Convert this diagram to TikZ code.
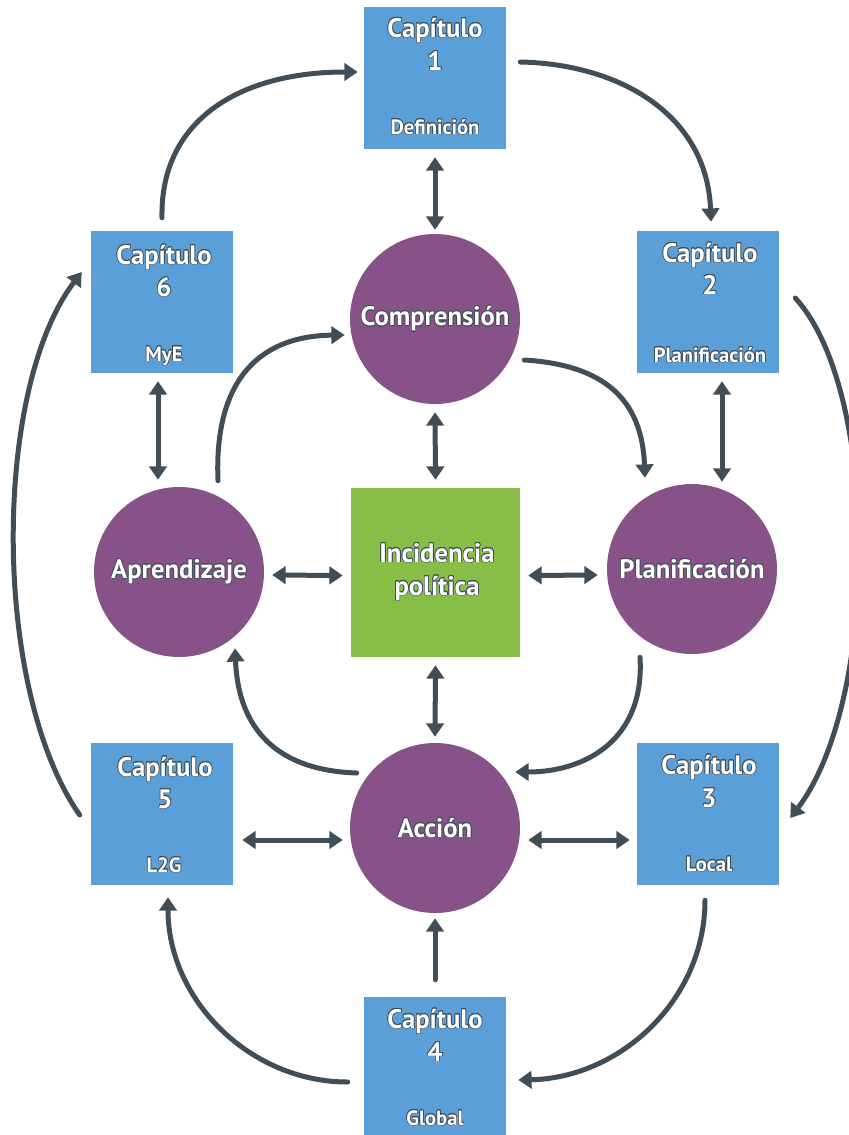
\documentclass[tikz,border=0pt]{standalone}
\usepackage{fontspec}
\setmainfont{PT Sans}
\usepackage{contour}
\contourlength{0.5pt}
\usetikzlibrary{arrows.meta,calc}
\definecolor{cblue}{HTML}{5A9FD7}
\definecolor{cpurple}{HTML}{875288}
\definecolor{cgreen}{HTML}{88BD46}
\definecolor{carrow}{HTML}{414E58}
\newcommand{\ol}[1]{\contour{carrow}{#1}}
\begin{document}
\begin{tikzpicture}[x=0.75pt,y=-0.75pt,
  chbox/.style={fill=cblue,minimum width=106.5pt,minimum height=106.5pt,inner sep=0pt},
  circ/.style={circle,fill=cpurple,minimum size=127.5pt,inner sep=0pt,text=white,font=\bfseries\fontsize{20}{22}\selectfont},
  gbox/.style={fill=cgreen,minimum width=126.75pt,minimum height=126.75pt,inner sep=0pt},
  ttl/.style={anchor=base,inner sep=0pt,text=white,font=\bfseries\fontsize{20}{22}\selectfont},
  sub/.style={anchor=base,inner sep=0pt,text=white,font=\bfseries\fontsize{15.5}{17}\selectfont},
  conn/.style={draw=carrow,line width=3.75pt,line cap=round,-{Triangle[length=10pt,width=13pt]}},
  dconn/.style={draw=carrow,line width=3.75pt,{Triangle[length=10pt,width=13pt]}-{Triangle[length=10pt,width=13pt]}}
]
\useasboundingbox (0,0) rectangle (849,1135);

% chapter boxes
\node[chbox] (c1) at (435,78) {};
\node[chbox] (c2) at (708,302) {};
\node[chbox] (c3) at (708,814) {};
\node[chbox,minimum height=103.5pt] (c4) at (435,1066) {};
\node[chbox] (c5) at (162,814) {};
\node[chbox] (c6) at (162,302) {};

% chapter texts
\node[ttl] (c1a) at (435,37) {\ol{Capítulo}};
\node[ttl] (c1n) at (435,70) {\ol{1}};
\node[sub] (c1b) at (435,134) {\ol{Definición}};
\node[ttl] (c2a) at (710,262) {\ol{Capítulo}};
\node[ttl] (c2n) at (710,294) {\ol{2}};
\node[sub] (c2b) at (710,362) {\ol{Planificación}};
\node[ttl] (c3a) at (709,774) {\ol{Capítulo}};
\node[ttl] (c3n) at (709,807) {\ol{3}};
\node[sub] (c3b) at (709,871) {\ol{Local}};
\node[ttl] (c4a) at (435,1028) {\ol{Capítulo}};
\node[ttl] (c4n) at (435,1061) {\ol{4}};
\node[sub] (c4b) at (435,1125) {\ol{Global}};
\node[ttl] (c5a) at (165,776) {\ol{Capítulo}};
\node[ttl] (c5n) at (165,808) {\ol{5}};
\node[sub] (c5b) at (164,872) {\ol{L2G}};
\node[ttl] (c6a) at (164,264) {\ol{Capítulo}};
\node[ttl] (c6n) at (164,296) {\ol{6}};
\node[sub] (c6b) at (164,361) {\ol{MyE}};

% circles
\node[circ] (comp) at (435,319) {\ol{Comprensión}};
\node[circ] (apr) at (179,572) {\ol{Aprendizaje}};
\node[circ] (plan) at (692,569) {\ol{Planificación}};
\node[circ] (acc) at (435,828) {\ol{Acción}};

% center
\node[gbox] (inc) at (435.5,572.5) {};
\node[ttl] (inca) at (437,562) {\ol{Incidencia}};
\node[ttl] (incb) at (437,595) {\ol{política}};

% outer cycle
\draw[conn] ($(c6.north)+(0,-13)$) .. controls (160,120) and (240,72) .. ($(c1.west)+(-6,-6)$);
\draw[conn] ($(c1.east)+(14,-16)$) .. controls (620,64) and (707,115) .. ($(c2.north)+(3,-9)$);
\draw[conn] ($(c2.east)+(16,-4)$) .. controls (880,390) and (880,700) .. ($(c3.east)+(11,4)$);
\draw[conn] ($(c3.south)+(-3,15)$) .. controls (705,1000) and (620,1078) .. ($(c4.east)+(12,14)$);
\draw[conn] ($(c4.west)+(-16,16)$) .. controls (250,1082) and (168,1000) .. ($(c5.south)+(6,12)$);
\draw[conn] ($(c5.west)+(-11,1)$) .. controls (-8,690) and (-8,390) .. ($(c6.west)+(-9,-30)$);
\draw[conn] ($(c4.north)+(0,-17)$) -- ($(acc.south)+(0,5)$);

% inner cycle
\draw[conn] ($(apr.north)+(39,-6)$) .. controls (214,385) and (255,336) .. ($(comp.west)+(-5,16)$);
\draw[conn] ($(comp.east)+(4,41)$) .. controls (605,365) and (642,400) .. ($(plan.north)+(-47,-6)$);
\draw[conn] ($(plan.south)+(-52,3)$) .. controls (645,740) and (585,772) .. ($(acc.east)+(-5,-56)$);
\draw[conn] ($(acc.west)+(7,-55)$) .. controls (268,770) and (238,720) .. ($(apr.south)+(56,-9)$);

% double arrows
\draw[dconn] ($(c1.south)+(0,8)$) -- ($(comp.north)+(0,-4)$);
\draw[dconn] ($(comp.south)+(0,8)$) -- ($(inc.north)+(0,-8)$);
\draw[dconn] ($(inc.south)+(0,8)$) -- ($(acc.north)+(0,-6)$);
\draw[dconn] ($(apr.east)+(8,3)$) -- ($(inc.west)+(-8,3)$);
\draw[dconn] ($(inc.east)+(8,3)$) -- ($(plan.west)+(-9,6)$);
\draw[dconn] ($(c2.south)+(14,8)$) -- ($(plan.north)+(30,-2)$);
\draw[dconn] ($(c6.south)+(-4,8)$) -- ($(apr.north)+(-21,-7)$);
\draw[dconn] ($(c5.east)+(9,26)$) -- ($(acc.west)+(-7,12)$);
\draw[dconn] ($(acc.east)+(8,12)$) -- ($(c3.west)+(-7,26)$);
\end{tikzpicture}
\end{document}
